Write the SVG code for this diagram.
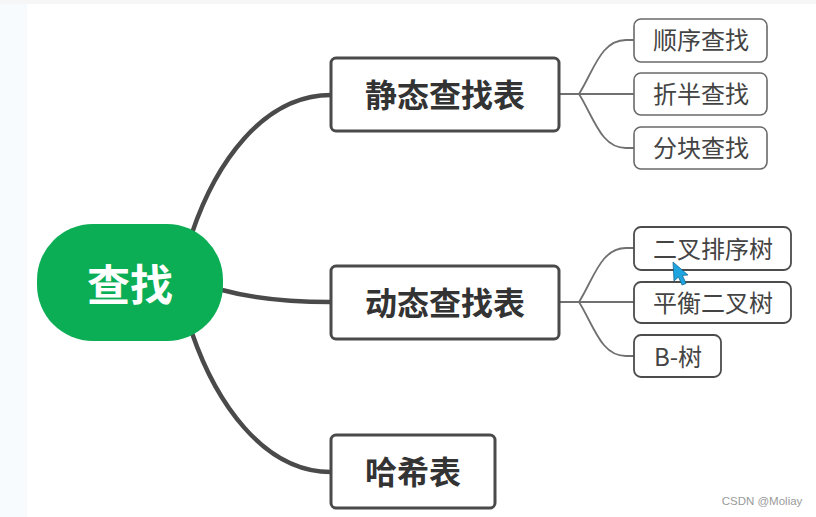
<svg xmlns="http://www.w3.org/2000/svg" width="816" height="517" viewBox="0 0 816 517">
<style>
text{font-family:"Noto Sans CJK SC","Liberation Sans",sans-serif;text-anchor:middle;dominant-baseline:central}
.main{fill:#fff;stroke:#4a4a4a;stroke-width:3}
.sub{fill:#fff;stroke:#6a6a6a;stroke-width:1.6}
.sub2{fill:#fff;stroke:#4c4c4c;stroke-width:1.8}
.mt{font-size:32px;font-weight:700;fill:#333}
.st{font-size:24px;fill:#444}
.c1{fill:none;stroke:#4a4a4a;stroke-width:4.5}
.c2{fill:none;stroke:#707070;stroke-width:1.8}
</style>
<rect width="816" height="517" fill="#fff"/>
<rect width="27" height="517" fill="#f8fbfd"/>
<rect width="816" height="4" fill="#f6f6f6"/>
<g id="connectors">
<path class="c1" d="M192 233C215 165 262 95 331 95"/>
<path class="c1" d="M222 290C255 299 290 302 331 302"/>
<path class="c1" d="M192 333C215 400 262 472 331 472"/>
<path class="c2" d="M559 94H634"/>
<path class="c2" d="M579 94C594 70 601 40 626 40H634"/>
<path class="c2" d="M579 94C594 118 601 148 626 148H634"/>
<path class="c2" d="M559 302H634"/>
<path class="c2" d="M579 302C594 278 601 248 626 248H634"/>
<path class="c2" d="M579 302C594 326 601 356 626 356H634"/>
</g>
<g id="root"><rect x="37" y="224" width="186" height="117" rx="56" fill="#0bae55"/><text x="130" y="282" font-size="43" font-weight="700" fill="#fff">查找</text></g>
<g id="n-static"><rect class="main" x="331" y="58" width="228" height="73" rx="5"/><text class="mt" x="445" y="93">静态查找表</text></g>
<g id="n-dynamic"><rect class="main" x="331" y="266" width="228" height="73" rx="5"/><text class="mt" x="445" y="301">动态查找表</text></g>
<g id="n-hash"><rect class="main" x="331" y="435" width="164" height="73" rx="5"/><text class="mt" x="413" y="470">哈希表</text></g>
<g id="n-seq"><rect class="sub" x="634" y="19" width="133" height="43" rx="7"/><text class="st" x="701" y="38">顺序查找</text></g>
<g id="n-bin"><rect class="sub" x="634" y="73" width="133" height="42" rx="7"/><text class="st" x="701" y="92">折半查找</text></g>
<g id="n-block"><rect class="sub" x="634" y="127" width="133" height="42" rx="7"/><text class="st" x="701" y="146">分块查找</text></g>
<g id="n-bst"><rect class="sub2" x="634" y="227" width="157" height="43" rx="7"/><text class="st" x="713" y="247">二叉排序树</text></g>
<g id="n-avl"><rect class="sub2" x="634" y="282" width="157" height="41" rx="7"/><text class="st" x="713" y="301">平衡二叉树</text></g>
<g id="n-b"><rect class="sub2" x="634" y="335" width="87" height="42" rx="7"/><text class="st" x="678" y="355">B-树</text></g>
<path d="M673 262L674 281L678.500 277L682 285L686 283.500L682.500 275.500L688 275Z" fill="#1ea5e0" stroke="#0d5f88" stroke-width="0.7"/>
<text x="762" y="501" font-size="11.500" fill="#9a9a9a" style='font-family:"Liberation Sans",sans-serif'>CSDN @Moliay</text>
</svg>
